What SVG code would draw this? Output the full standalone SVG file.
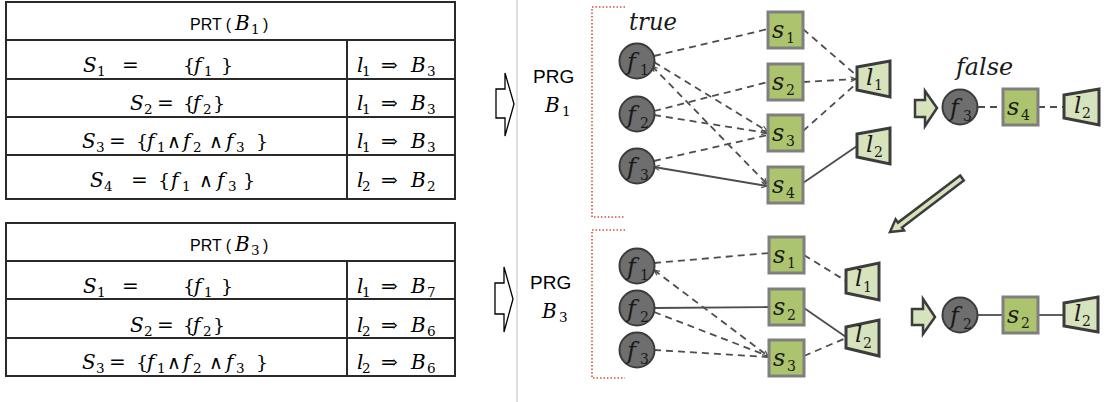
<svg xmlns="http://www.w3.org/2000/svg" width="1109" height="402" viewBox="0 0 1109 402">
  <style>
    .tb { fill: none; stroke: #2a2a2a; stroke-width: 2; }
    .sans { font-family: "Liberation Sans", Arial, sans-serif; fill: #000; }
    .mi { font-family: "DejaVu Serif", "Liberation Serif", serif; font-style: italic; font-size: 20px; fill: #000; }
    .mn { font-family: "DejaVu Serif", "Liberation Serif", serif; font-size: 19px; fill: #000; }
    .op { font-family: "DejaVu Serif", serif; font-size: 20px; fill: #000; }
    .and { font-family: "DejaVu Serif", serif; font-size: 19px; fill: #000; }
    .sb { font-family: "DejaVu Serif", "Liberation Serif", serif; font-size: 13.5px; fill: #000; }
    .fc { fill: #6e6e6e; stroke: #3c3c3c; stroke-width: 2; }
    .sq { fill: #adc46e; stroke: #7f7f7f; stroke-width: 3; }
    .tr { fill: #d7e3bc; stroke: #3c3c3c; stroke-width: 3; stroke-linejoin: miter; }
    .nl { font-family: "DejaVu Serif", "Liberation Serif", serif; font-style: italic; font-size: 24px; fill: #1a1a1a; }
    .ll { font-family: "DejaVu Serif", "Liberation Serif", serif; font-style: italic; font-size: 23px; fill: #1a1a1a; }
    .ns { font-family: "DejaVu Serif", "Liberation Serif", serif; font-size: 14px; fill: #1a1a1a; }
    .dash { fill: none; stroke: #4d4d4d; stroke-width: 1.8; stroke-dasharray: 7 5; }
    .solid { fill: none; stroke: #4d4d4d; stroke-width: 1.8; }
    .brk { fill: none; stroke: #d0533a; stroke-width: 1.6; stroke-dasharray: 1.5 2; }
    .hollow { fill: #fff; stroke: #000; stroke-width: 1.3; }
    .blk { fill: #d7e3bc; stroke: #3c3c3c; stroke-width: 2.5; stroke-linejoin: miter; }
  </style>
  <defs>
    <marker id="tip" markerUnits="userSpaceOnUse" markerWidth="9" markerHeight="9" refX="7" refY="4" orient="auto-start-reverse">
      <path d="M1.5,1.5 L7,4 L1.5,6.5" fill="none" stroke="#4d4d4d" stroke-width="1.2"/>
    </marker>
  </defs>

  <!-- table PRT(B1) -->
  <g id="table-b1">
    <rect class="tb" x="6" y="2" width="449" height="197"/>
    <line class="tb" x1="6" y1="40" x2="455" y2="40"/>
    <line class="tb" x1="6" y1="79" x2="455" y2="79"/>
    <line class="tb" x1="6" y1="117" x2="455" y2="117"/>
    <line class="tb" x1="6" y1="155" x2="455" y2="155"/>
    <line class="tb" x1="347" y1="40" x2="347" y2="199"/>
    <text class="sans" font-size="16" x="190" y="30">PRT (</text>
    <text class="mi" x="235" y="30">B</text><text class="sb" x="251" y="34">1</text>
    <text class="sans" font-size="16" x="263" y="30">)</text>

    <text class="mi" x="83" y="72">S</text><text class="sb" x="97" y="76">1</text>
    <text class="op" x="122" y="72">=</text>
    <text class="mn" x="183" y="72">{</text><text class="mi" x="194" y="72">f</text><text class="sb" x="204" y="76">1</text><text class="mn" x="221" y="72">}</text>

    <text class="mi" x="130" y="110">S</text><text class="sb" x="144" y="114">2</text>
    <text class="op" x="157" y="110">=</text>
    <text class="mn" x="183" y="110">{</text><text class="mi" x="193" y="110">f</text><text class="sb" x="203" y="114">2</text><text class="mn" x="213" y="110">}</text>

    <text class="mi" x="82" y="148">S</text><text class="sb" x="96" y="152">3</text>
    <text class="op" x="109" y="148">=</text>
    <text class="mn" x="136" y="148">{</text><text class="mi" x="147" y="148">f</text><text class="sb" x="157" y="152">1</text>
    <text class="and" x="167" y="148">∧</text>
    <text class="mi" x="183" y="148">f</text><text class="sb" x="193" y="152">2</text>
    <text class="and" x="209" y="148">∧</text>
    <text class="mi" x="226" y="148">f</text><text class="sb" x="236" y="152">3</text><text class="mn" x="256" y="148">}</text>

    <text class="mi" x="90" y="187">S</text><text class="sb" x="104" y="191">4</text>
    <text class="op" x="131" y="187">=</text>
    <text class="mn" x="158" y="187">{</text><text class="mi" x="171" y="187">f</text><text class="sb" x="182" y="191">1</text>
    <text class="and" x="199" y="187">∧</text>
    <text class="mi" x="217" y="187">f</text><text class="sb" x="228" y="191">3</text><text class="mn" x="243" y="187">}</text>

    <text class="mi" x="357" y="72">l</text><text class="sb" x="362" y="76">1</text><text class="op" x="381" y="72">⇒</text><text class="mi" x="411" y="72">B</text><text class="sb" x="427" y="76">3</text>
    <text class="mi" x="357" y="110">l</text><text class="sb" x="362" y="114">1</text><text class="op" x="381" y="110">⇒</text><text class="mi" x="411" y="110">B</text><text class="sb" x="427" y="114">3</text>
    <text class="mi" x="357" y="148">l</text><text class="sb" x="362" y="152">1</text><text class="op" x="381" y="148">⇒</text><text class="mi" x="411" y="148">B</text><text class="sb" x="427" y="152">3</text>
    <text class="mi" x="357" y="187">l</text><text class="sb" x="362" y="191">2</text><text class="op" x="381" y="187">⇒</text><text class="mi" x="411" y="187">B</text><text class="sb" x="427" y="191">2</text>
  </g>

  <!-- table PRT(B3) -->
  <g id="table-b3">
    <rect class="tb" x="6" y="223" width="449" height="153"/>
    <line class="tb" x1="6" y1="261" x2="455" y2="261"/>
    <line class="tb" x1="6" y1="299" x2="455" y2="299"/>
    <line class="tb" x1="6" y1="338" x2="455" y2="338"/>
    <line class="tb" x1="347" y1="261" x2="347" y2="376"/>
    <text class="sans" font-size="16" x="190" y="251">PRT (</text>
    <text class="mi" x="235" y="251">B</text><text class="sb" x="251" y="255">3</text>
    <text class="sans" font-size="16" x="263" y="251">)</text>

    <text class="mi" x="83" y="293">S</text><text class="sb" x="97" y="297">1</text>
    <text class="op" x="122" y="293">=</text>
    <text class="mn" x="183" y="293">{</text><text class="mi" x="194" y="293">f</text><text class="sb" x="204" y="297">1</text><text class="mn" x="221" y="293">}</text>

    <text class="mi" x="130" y="332">S</text><text class="sb" x="144" y="336">2</text>
    <text class="op" x="157" y="332">=</text>
    <text class="mn" x="183" y="332">{</text><text class="mi" x="193" y="332">f</text><text class="sb" x="203" y="336">2</text><text class="mn" x="213" y="332">}</text>

    <text class="mi" x="82" y="369">S</text><text class="sb" x="96" y="373">3</text>
    <text class="op" x="109" y="369">=</text>
    <text class="mn" x="136" y="369">{</text><text class="mi" x="147" y="369">f</text><text class="sb" x="157" y="373">1</text>
    <text class="and" x="167" y="369">∧</text>
    <text class="mi" x="183" y="369">f</text><text class="sb" x="193" y="373">2</text>
    <text class="and" x="209" y="369">∧</text>
    <text class="mi" x="226" y="369">f</text><text class="sb" x="236" y="373">3</text><text class="mn" x="256" y="369">}</text>

    <text class="mi" x="357" y="293">l</text><text class="sb" x="362" y="297">1</text><text class="op" x="381" y="293">⇒</text><text class="mi" x="411" y="293">B</text><text class="sb" x="427" y="297">7</text>
    <text class="mi" x="357" y="332">l</text><text class="sb" x="362" y="336">2</text><text class="op" x="381" y="332">⇒</text><text class="mi" x="411" y="332">B</text><text class="sb" x="427" y="336">6</text>
    <text class="mi" x="357" y="369">l</text><text class="sb" x="362" y="373">2</text><text class="op" x="381" y="369">⇒</text><text class="mi" x="411" y="369">B</text><text class="sb" x="427" y="373">6</text>
  </g>

  <!-- hollow transition arrows and divider -->
  <g id="transitions">
    <polygon class="hollow" points="496,89 505,89 505,73 514,104 505,136 505,118 496,118"/>
    <polygon class="hollow" points="495,283 504,283 504,267 513,299 504,332 504,314 495,314"/>
    <line x1="517" y1="0" x2="517" y2="402" stroke="#bdbdbd" stroke-width="1"/>
  </g>

  <!-- graph titles and brackets -->
  <g id="prg-b1">
    <text class="sans" font-size="19" x="533" y="83">PRG</text>
    <text class="mi" font-size="21" x="545" y="112">B</text><text class="sb" font-size="14" x="562" y="116">1</text>
    <polyline class="brk" points="625,7 592,7 592,217 625,217"/>
    <text class="nl" font-size="22" x="629" y="30" textLength="48" lengthAdjust="spacingAndGlyphs">true</text>
  </g>
  <g id="prg-b3">
    <text class="sans" font-size="19" x="530" y="289">PRG</text>
    <text class="mi" font-size="21" x="542" y="318">B</text><text class="sb" font-size="14" x="559" y="322">3</text>
    <polyline class="brk" points="625,230 592,230 592,378 625,378"/>
  </g>
  <text class="nl" font-size="22" x="956" y="75" textLength="57" lengthAdjust="spacingAndGlyphs">false</text>

  <!-- connectors -->
  <g id="connectors">
    <!-- upper graph -->
    <line class="dash" x1="654" y1="56" x2="768" y2="29"/>
    <line class="dash" x1="654" y1="62" x2="767" y2="131" marker-end="url(#tip)"/>
    <line class="dash" x1="652" y1="66" x2="767" y2="184" marker-start="url(#tip)" marker-end="url(#tip)"/>
    <line class="dash" x1="654" y1="111" x2="768" y2="82"/>
    <line class="dash" x1="654" y1="115" x2="767" y2="133" marker-end="url(#tip)"/>
    <line class="dash" x1="654" y1="161" x2="768" y2="135"/>
    <line class="solid" x1="654" y1="167" x2="767" y2="186" marker-start="url(#tip)" marker-end="url(#tip)"/>
    <line class="dash" x1="803" y1="29" x2="856" y2="75"/>
    <line class="dash" x1="803" y1="82" x2="856" y2="79" marker-end="url(#tip)"/>
    <line class="dash" x1="803" y1="131" x2="856" y2="84"/>
    <line class="solid" x1="803" y1="183" x2="857" y2="146"/>
    <!-- upper chain -->
    <line class="dash" x1="978" y1="107" x2="1003" y2="107"/>
    <line class="dash" x1="1038" y1="107" x2="1064" y2="107"/>
    <!-- lower graph -->
    <line class="dash" x1="654" y1="263" x2="769" y2="253"/>
    <line class="dash" x1="654" y1="270" x2="768" y2="356" marker-start="url(#tip)" marker-end="url(#tip)"/>
    <line class="solid" x1="654" y1="308" x2="769" y2="307"/>
    <line class="dash" x1="654" y1="312" x2="768" y2="356"/>
    <line class="dash" x1="654" y1="350" x2="768" y2="357"/>
    <line class="dash" x1="804" y1="255" x2="846" y2="281"/>
    <line class="solid" x1="804" y1="308" x2="846" y2="337"/>
    <line class="dash" x1="804" y1="356" x2="846" y2="338"/>
    <!-- lower chain -->
    <line class="solid" x1="978" y1="315" x2="1003" y2="315"/>
    <line class="solid" x1="1038" y1="315" x2="1064" y2="315"/>
  </g>

  <!-- upper graph nodes -->
  <g id="u-f1"><circle class="fc" cx="637" cy="61" r="17.5"/><text class="nl" x="627" y="70">f</text><text class="ns" x="640" y="75">1</text></g>
  <g id="u-f2"><circle class="fc" cx="637" cy="114" r="17.5"/><text class="nl" x="627" y="123">f</text><text class="ns" x="640" y="128">2</text></g>
  <g id="u-f3"><circle class="fc" cx="637" cy="166" r="17.5"/><text class="nl" x="627" y="175">f</text><text class="ns" x="640" y="180">3</text></g>
  <g id="u-s1"><rect class="sq" x="768" y="12" width="35" height="36"/><text class="nl" x="772" y="38">s</text><text class="ns" x="786" y="43">1</text></g>
  <g id="u-s2"><rect class="sq" x="768" y="64" width="35" height="36"/><text class="nl" x="772" y="90">s</text><text class="ns" x="786" y="95">2</text></g>
  <g id="u-s3"><rect class="sq" x="768" y="115" width="35" height="36"/><text class="nl" x="772" y="141">s</text><text class="ns" x="786" y="146">3</text></g>
  <g id="u-s4"><rect class="sq" x="768" y="167" width="35" height="36"/><text class="nl" x="772" y="193">s</text><text class="ns" x="786" y="198">4</text></g>
  <g id="u-l1"><polygon class="tr" points="857,67 890,61 890,97 857,90"/><text class="ll" x="866" y="85">l</text><text class="ns" x="874" y="90">1</text></g>
  <g id="u-l2"><polygon class="tr" points="857,134 890,128 890,164 857,157"/><text class="ll" x="866" y="152">l</text><text class="ns" x="874" y="157">2</text></g>

  <!-- false branch chain -->
  <g id="u-go"><polygon class="blk" points="915,100 925,100 925,91 937,108 925,126 925,117 915,117"/></g>
  <g id="c-f3"><circle class="fc" cx="960" cy="107" r="17.5"/><text class="nl" x="950" y="116">f</text><text class="ns" x="963" y="121">3</text></g>
  <g id="c-s4"><rect class="sq" x="1003" y="89" width="35" height="36"/><text class="nl" x="1007" y="115">s</text><text class="ns" x="1021" y="120">4</text></g>
  <g id="c-l2"><polygon class="tr" points="1064,95 1099,89 1099,125 1064,118"/><text class="ll" x="1074" y="113">l</text><text class="ns" x="1082" y="118">2</text></g>

  <!-- diagonal step arrow -->
  <g id="step-arrow"><polygon class="blk" stroke-width="2" points="963.8,180.4 902,227.5 904,230.4 890,232 895.6,219.2 898,222.6 960.2,175.6"/></g>

  <!-- lower graph nodes -->
  <g id="l-f1"><circle class="fc" cx="637" cy="266" r="17.5"/><text class="nl" x="627" y="275">f</text><text class="ns" x="640" y="280">1</text></g>
  <g id="l-f2"><circle class="fc" cx="637" cy="308" r="17.5"/><text class="nl" x="627" y="317">f</text><text class="ns" x="640" y="322">2</text></g>
  <g id="l-f3"><circle class="fc" cx="637" cy="350" r="17.5"/><text class="nl" x="627" y="359">f</text><text class="ns" x="640" y="364">3</text></g>
  <g id="l-s1"><rect class="sq" x="769" y="237" width="35" height="36"/><text class="nl" x="773" y="263">s</text><text class="ns" x="787" y="268">1</text></g>
  <g id="l-s2"><rect class="sq" x="769" y="289" width="35" height="36"/><text class="nl" x="773" y="315">s</text><text class="ns" x="787" y="320">2</text></g>
  <g id="l-s3"><rect class="sq" x="769" y="340" width="35" height="36"/><text class="nl" x="773" y="366">s</text><text class="ns" x="787" y="371">3</text></g>
  <g id="l-l1"><polygon class="tr" points="846,270 879,263 879,300 846,293"/><text class="ll" x="855" y="286">l</text><text class="ns" x="863" y="292">1</text></g>
  <g id="l-l2"><polygon class="tr" points="846,327 879,320 879,356 846,348"/><text class="ll" x="855" y="342">l</text><text class="ns" x="863" y="348">2</text></g>

  <!-- second chain -->
  <g id="l-go"><polygon class="blk" points="912,309 923,309 923,299 935,317 923,334 923,325 912,325"/></g>
  <g id="c-f2"><circle class="fc" cx="960" cy="315" r="17.5"/><text class="nl" x="950" y="324">f</text><text class="ns" x="963" y="329">2</text></g>
  <g id="c-s2"><rect class="sq" x="1003" y="297" width="35" height="36"/><text class="nl" x="1007" y="323">s</text><text class="ns" x="1021" y="328">2</text></g>
  <g id="c-l2b"><polygon class="tr" points="1064,303 1098,297 1098,332 1064,326"/><text class="ll" x="1074" y="321">l</text><text class="ns" x="1082" y="326">2</text></g>
</svg>
